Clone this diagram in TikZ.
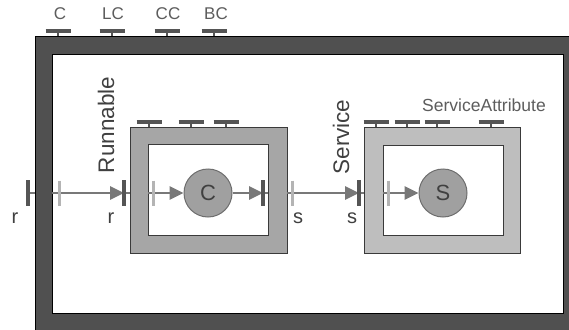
\documentclass[tikz,border=0pt]{standalone}
\usepackage{fontspec}
\setmainfont{Liberation Sans}
\usetikzlibrary{arrows.meta}
\definecolor{darkb}{HTML}{505050}
\definecolor{compg}{HTML}{A6A6A6}
\definecolor{servg}{HTML}{BEBEBE}
\definecolor{circg}{HTML}{A0A0A0}
\definecolor{circb}{HTML}{6E6E6E}
\definecolor{linec}{HTML}{787878}
\definecolor{tickc}{HTML}{B4B4B4}
\definecolor{barc}{HTML}{555555}
\definecolor{txtc}{HTML}{404040}
\definecolor{edgec}{HTML}{3A3A3A}
\begin{document}
\begin{tikzpicture}[x=1pt,y=-1pt,
  flow/.style={draw=linec, line width=2.8pt, -{Triangle[length=14pt,width=13pt]}},
  plain/.style={draw=linec, line width=2.8pt},
  darkbar/.style={draw=barc, line width=3.8pt},
  lighttick/.style={draw=tickc, line width=3pt},
  tbar/.style={draw=barc, line width=3.2pt},
  tstem/.style={draw=barc, line width=2.4pt},
  portlbl/.style={font=\fontsize{20}{20}\selectfont, text=txtc, inner sep=0pt},
  toplbl/.style={font=\fontsize{17}{17}\selectfont, text=txtc!85!white, inner sep=0pt},
  rotlbl/.style={font=\fontsize{22.5}{22.5}\selectfont, text=txtc, inner sep=0pt, rotate=90},
  ball/.style={circle, fill=circg, draw=circb, line width=1pt, minimum size=48pt, inner sep=0pt, font=\fontsize{22}{22}\selectfont, text=txtc}
]
\useasboundingbox (0,0) rectangle (569,329);
\clip (0,0) rectangle (569,329);
\fill[white] (0,0) rectangle (569,329);
% outer dark box
\filldraw[fill=darkb, draw=black, line width=0.8pt] (35,36) rectangle (580,340);
\filldraw[fill=white, draw=black, line width=0.8pt] (52,54) rectangle (563,313);
% component box
\filldraw[fill=compg, draw=edgec, line width=0.8pt] (130,127) rectangle (287,253);
\filldraw[fill=white, draw=edgec, line width=0.8pt] (148,144) rectangle (268,235);
% service box
\filldraw[fill=servg, draw=edgec, line width=0.8pt] (364,127) rectangle (520,253);
\filldraw[fill=white, draw=edgec, line width=0.8pt] (383,145) rectangle (503,235);

% circles
\node[ball] (c) at (208,193) {C};
\node[ball] (s) at (443,193) {S};

% port coordinates
\coordinate (p0) at (28,193);
\coordinate (p0e) at (35,193);
\coordinate (p1s) at (52,193);
\coordinate (p1) at (124,193);
\coordinate (p1e) at (130,193);
\coordinate (p2s) at (148,193);
\coordinate (p3) at (263,193);
\coordinate (p3e) at (268,193);
\coordinate (p4s) at (287,193);
\coordinate (p4) at (359,193);
\coordinate (p4e) at (364,193);
\coordinate (p5s) at (383,193);

% connectors
\draw[plain] (p0) -- (p0e);
\draw[flow] (p1s) -- (p1);
\draw[plain] (p1) -- (p1e);
\draw[flow] (p2s) -- (c);
\draw[flow] (c) -- (p3);
\draw[plain] (p3) -- (p3e);
\draw[flow] (p4s) -- (p4);
\draw[plain] (p4) -- (p4e);
\draw[flow] (p5s) -- (s);

% light ticks
\foreach \x in {59,153,292,388} \draw[lighttick] (\x,180.5) -- (\x,205.5);
% dark bars
\foreach \x in {28,124,263,359} \draw[darkbar] (\x,180) -- (\x,206);

% labels
\node[portlbl] (r1) at (15,218) {r};
\node[portlbl] (r2) at (111,218) {r};
\node[portlbl] (s1) at (298,218) {s};
\node[portlbl] (s2) at (352,218) {s};
\node[rotlbl] (run) at (106,125) {Runnable};
\node[rotlbl] (svc) at (341,137) {Service};

% T stubs on outer box
\foreach \x in {58,112,167,214} {\draw[tstem] (\x,31) -- (\x,36); \draw[tbar] (\x-12.5,31) -- (\x+12.5,31);}
\node[toplbl] (lc1) at (60,14) {C};
\node[toplbl] (lc2) at (113,14) {LC};
\node[toplbl] (lc3) at (168,14) {CC};
\node[toplbl] (lc4) at (216,14) {BC};
% T stubs on component box
\foreach \x in {149,191,226} {\draw[tstem] (\x,122) -- (\x,127); \draw[tbar] (\x-12.5,122) -- (\x+12.5,122);}
% T stubs on service box
\foreach \x in {376,407,437,491} {\draw[tstem] (\x,122) -- (\x,127); \draw[tbar] (\x-12.5,122) -- (\x+12.5,122);}
\node[toplbl, font=\fontsize{17.5}{17.5}\selectfont] (sa) at (484,105) {ServiceAttribute};
\end{tikzpicture}
\end{document}
